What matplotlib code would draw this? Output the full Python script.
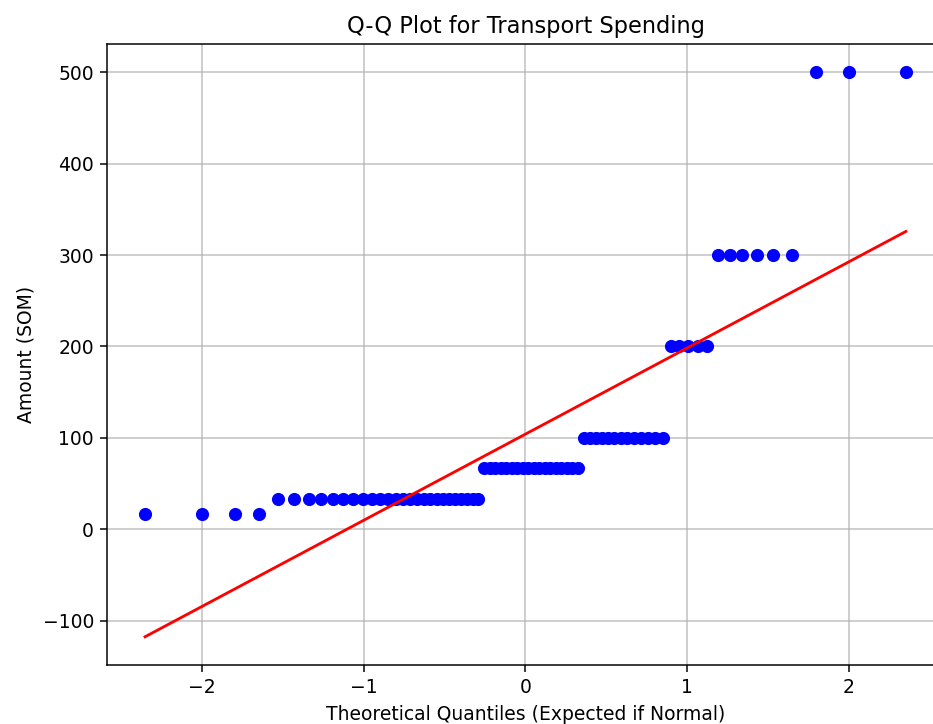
import numpy as np
import matplotlib
matplotlib.use("Agg")
import matplotlib.pyplot as plt
from statistics import NormalDist

# transport spending levels (SOM) and how many answers gave each one
levels = [16.67, 33.33, 66.67, 100, 200, 300, 500]
counts = [4, 25, 18, 13, 5, 6, 3]

title = "Q-Q Plot for Transport Spending"
xlabel = "Theoretical Quantiles (Expected if Normal)"
ylabel = "Amount (SOM)"

# sorted sample, like scipy.stats.probplot does it
y = np.sort(np.repeat(levels, counts))
n = len(y)

# Filliben order statistic medians -> normal quantiles
m = (np.arange(1, n + 1) - 0.3175) / (n + 0.365)
m[-1] = 0.5 ** (1.0 / n)
m[0] = 1 - m[-1]
nd = NormalDist()
x = np.array([nd.inv_cdf(p) for p in m])

slope, intercept = np.polyfit(x, y, 1)

dpi = 135
fig = plt.figure(figsize=(933 / dpi, 724 / dpi), dpi=dpi)
ax = fig.add_axes([0.1147, 0.0815, 0.897, 0.8577])
ax.plot(x, y, 'bo')
ax.plot(x, slope * x + intercept, 'r-')
ax.set_title(title)
ax.set_xlabel(xlabel)
ax.set_ylabel(ylabel)
ax.grid(True, alpha=0.8)

fig.savefig("out.png", dpi=dpi)
